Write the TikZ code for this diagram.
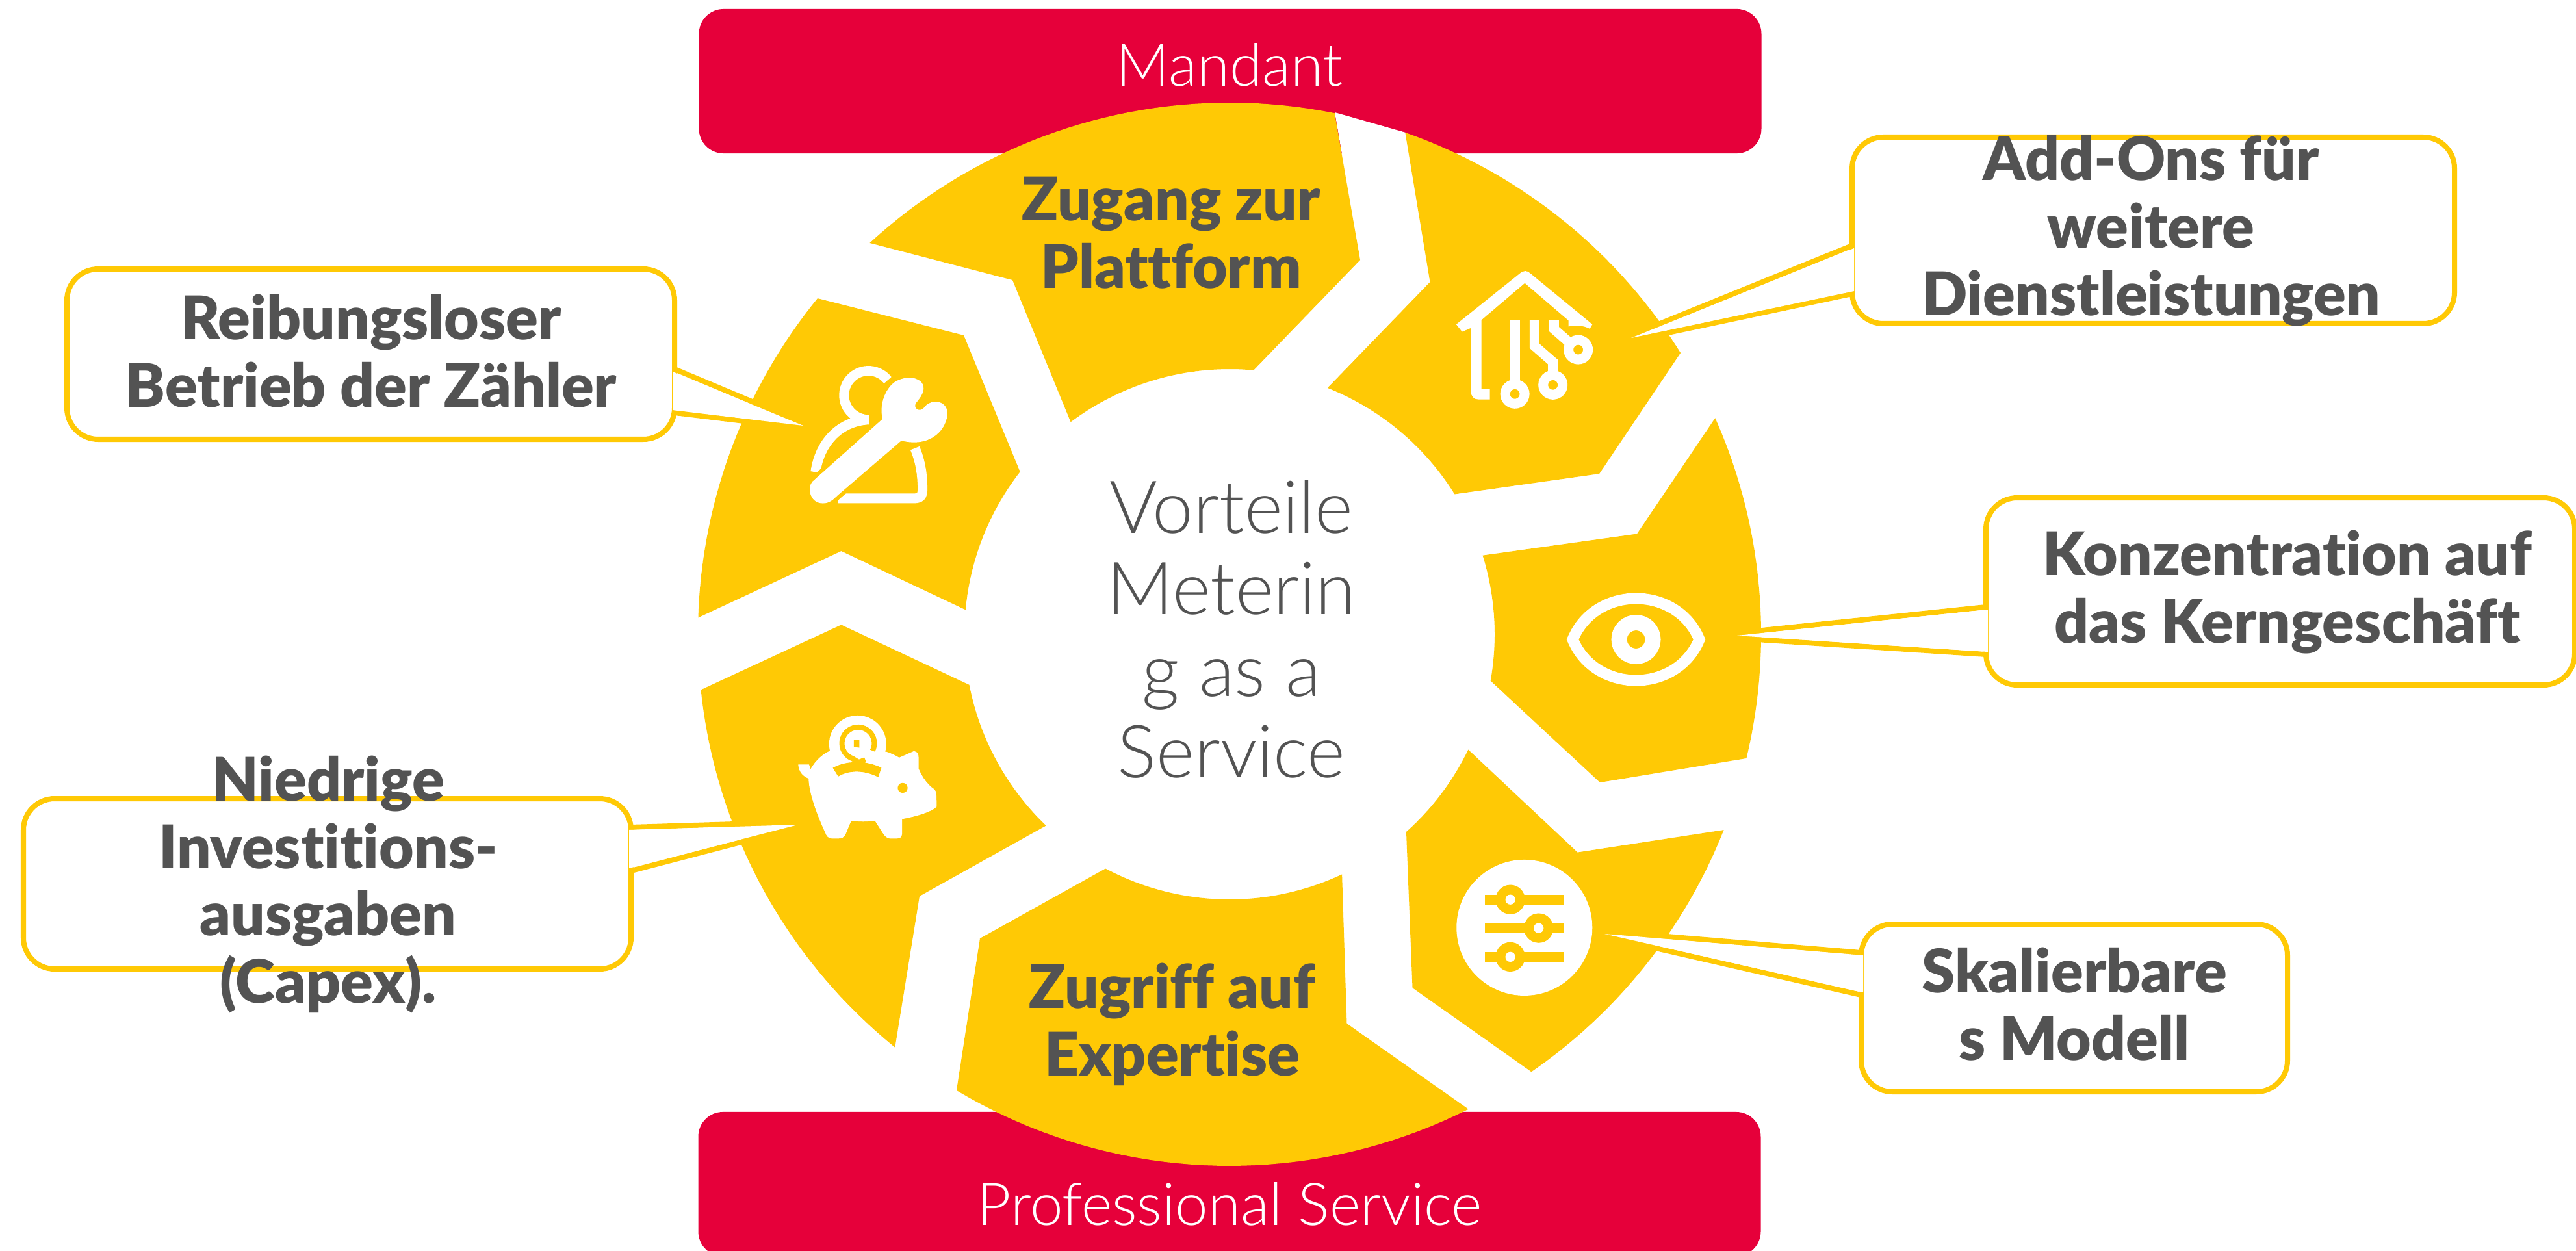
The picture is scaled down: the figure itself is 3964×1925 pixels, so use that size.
\documentclass[tikz,border=0pt]{standalone}
\usepackage{fontspec}
\setmainfont{Lato}
\newfontfamily\lightf[RawFeature={-liga}]{Lato Light}
\newfontfamily\heavyf[RawFeature={-liga}]{Lato Black}
\definecolor{yw}{HTML}{FFC905}
\definecolor{rd}{HTML}{E6003A}
\definecolor{gy}{HTML}{535353}
\tikzset{
  seg/.style={fill=yw},
  arcplot/.style={samples=40},
  redbox/.style={fill=rd,draw=none,rounded corners=0.38cm,minimum width=16.34cm,minimum height=2.22cm,inner sep=0pt},
  cbox/.style={draw=yw,fill=white,line width=0.08cm,rounded corners=0.48cm,inner sep=0pt},
  tailfill/.style={fill=white,draw=none},
  tailline/.style={draw=yw,line width=0.08cm,line cap=round},
  boldtxt/.style={text=gy,align=center,inner sep=0pt,font=\heavyf\fontsize{26.3}{29.5}\selectfont},
  lighttxt/.style={text=gy,align=center,inner sep=0pt,font=\lightf\fontsize{32}{35.6}\selectfont},
  redtxt/.style={text=white,inner sep=0pt,font=\lightf\fontsize{25.8}{36}\selectfont},
  icon/.style={x=0.003333cm,y=-0.003333cm},
  iconline/.style={draw=white,line width=0.15cm},
}
\newcommand{\cboxat}[5]{\node[cbox,minimum width={(#4-#2)*0.01cm},minimum height={(#5-#3)*0.01cm}] (#1) at ({(#2+#4)/2},{(#3+#5)/2}) {};}
% tail: outer edges are stroked yellow, the white wedge sits on top and ends at the tip
\newcommand{\tailat}[2]{%
  \draw[tailline] ([yshift=0.04cm]#1a) -- ([yshift=0.04cm]#1t);
  \draw[tailline] ([yshift=-0.04cm]#1b) -- ([yshift=-0.04cm]#1t);
  \fill[tailfill] ([xshift=#2]#1a) -- (#1t) -- ([xshift=#2]#1b) -- cycle;}
\begin{document}
\begin{tikzpicture}[x=0.01cm,y=-0.01cm,
  declare function={ox(\a)=1892+818*cos(\a);oy(\a)=976+818*sin(\a);ix(\a)=1892+408*cos(\a);iy(\a)=976+408*sin(\a);}]
\useasboundingbox (0,0) rectangle (3964,1925);
\clip (0,0) rectangle (3964,1925);

% red bars
\node[redbox] (top) at (1893,125) {};
\node[redbox] (bot) at (1892,1822) {};
\fill[white] (2054,173) -- (2163,204) -- (2200,434) -- (2093,400) -- cycle;

% segments
\fill[seg] plot[arcplot,domain=-132.6:-78.6] ({ox(\x)},{oy(\x)}) -- (2093,400) -- plot[arcplot,domain=-84.8:-126.8] ({ix(\x)},{iy(\x)}) -- (1558,431) -- cycle;
\fill[seg] plot[arcplot,domain=-70.7:-31.96] ({ox(\x)},{oy(\x)}) -- (2461,729) -- plot[arcplot,domain=-31.9:-68.3] ({ix(\x)},{iy(\x)}) -- (2200.5,434) -- cycle;
\fill[seg] plot[arcplot,domain=-24:13.5] ({ox(\x)},{oy(\x)}) -- (2462,1204) -- plot[arcplot,domain=10.1:-17.3] ({ix(\x)},{iy(\x)}) -- (2519,821.5) -- cycle;
\fill[seg] plot[arcplot,domain=21.6:55.4] ({ox(\x)},{oy(\x)}) -- (2173.5,1520) -- plot[arcplot,domain=48.2:25.8] ({ix(\x)},{iy(\x)}) -- (2427.5,1311.6) -- cycle;
\fill[seg] plot[arcplot,domain=63.3:120.9] ({ox(\x)},{oy(\x)}) -- (1508,1444) -- plot[arcplot,domain=117.9:64.9] ({ix(\x)},{iy(\x)}) -- (2072.5,1575) -- cycle;
\fill[seg] (1294.5,961.4) -- plot[arcplot,domain=174:129] ({ox(\x)},{oy(\x)}) -- (1415,1379) -- plot[arcplot,domain=133.8:169] ({ix(\x)},{iy(\x)}) -- cycle;
\fill[seg] (1260,459.6) -- (1483,516) -- plot[arcplot,domain=217.8:185.3] ({ix(\x)},{iy(\x)}) -- (1294.5,848) -- plot[arcplot,domain=181.8:219.2] ({ox(\x)},{oy(\x)}) -- cycle;

% callouts
\cboxat{b1}{2850}{211}{3777}{498}
\coordinate (t1a) at (2850,382); \coordinate (t1t) at (2510,520); \coordinate (t1b) at (2850,448);
\tailat{t1}{0.03cm}

\cboxat{b2}{3056}{766}{3962}{1054}
\coordinate (t2a) at (3056,938); \coordinate (t2t) at (2673,978); \coordinate (t2b) at (3056,1003);
\tailat{t2}{0.03cm}

\cboxat{b3}{2864}{1422}{3520}{1680}
\coordinate (t3a) at (2864,1470); \coordinate (t3t) at (2469,1437); \coordinate (t3b) at (2864,1527);
\tailat{t3}{0.03cm}

\cboxat{b4}{36}{1229}{971}{1491}
\coordinate (t4a) at (971,1277); \coordinate (t4t) at (1228,1269); \coordinate (t4b) at (971,1336);
\tailat{t4}{-0.03cm}

\cboxat{b5}{103}{414}{1038}{676}
\coordinate (t5a) at (1038,572); \coordinate (t5t) at (1236,655); \coordinate (t5b) at (1038,631);
\tailat{t5}{-0.03cm}

% wrench icon
\begin{scope}[shift={(1150,500)},icon]
  \draw[iconline] plot[samples=40,domain=-38:-270] ({560+113*cos(\x)},{325+113*sin(\x)}) .. controls (430,445) and (335,540) .. (315,680);
  \draw[iconline] (775,570) .. controls (800,630) and (810,690) .. (810,760) .. controls (810,790) and (800,802) .. (770,802) -- (420,802);
  \path[fill=white,preaction={draw=yw,line width=0.12cm}] (625,435) -- (300,725) .. controls (275,755) and (290,825) .. (350,825) .. controls (380,825) and (400,805) .. (415,790) -- (712,535) .. controls (850,570) and (925,480) .. (925,405) .. controls (920,345) and (845,340) .. (815,385) .. controls (795,405) and (765,385) .. (780,360) .. controls (815,320) and (825,290) .. (805,265) .. controls (770,230) and (710,245) .. (680,265) .. controls (635,300) and (610,370) .. (625,435) -- cycle;
\end{scope}

% home icon
\begin{scope}[shift={(2180,380)},icon]
  \fill[white] (183,358) -- (478,122) .. controls (495,108) and (510,108) .. (525,122) -- (812,358) -- (800,378) .. controls (770,362) and (730,360) .. (702,368) -- (702,340) -- (500,167) -- (299,338) -- (299,657) -- (338,657) -- (338,705) -- (285,705) .. controls (265,705) and (250,690) .. (250,665) -- (250,375) -- (210,392) -- cycle;
  \draw[iconline] (454,338) -- (454,620);
  \draw[iconline] (454,680) circle[radius=45];
  \draw[iconline] (545,338) -- (545,458) -- (630,532) -- (630,585);
  \draw[iconline] (630,638) circle[radius=45];
  \draw[iconline] (635,338) -- (635,380) -- (715,450);
  \draw[iconline] (747,475) circle[radius=45];
\end{scope}

% eye icon
\draw[white,line width=0.17cm,line join=miter] (2420,984) .. controls (2455,900) and (2580,900) .. (2615,984) .. controls (2580,1068) and (2455,1068) .. (2420,984) -- cycle;
\draw[white,line width=0.24cm] (2517.5,984) circle[radius=26];

% sliders icon
\begin{scope}[shift={(2200,1290)},icon]
  \fill[white] (438,413) circle[radius=314];
  \fill[yw] (256,261) rectangle (622,305);
  \fill[yw] (256,393) rectangle (622,437);
  \fill[yw] (256,526) rectangle (622,570);
  \fill[yw] (373,283) circle[radius=68];
  \fill[yw] (504,415) circle[radius=68];
  \fill[yw] (373,548) circle[radius=68];
  \fill[white] (373,283) circle[radius=23];
  \fill[white] (504,415) circle[radius=23];
  \fill[white] (373,548) circle[radius=23];
\end{scope}

% piggy icon
\begin{scope}[shift={(1190,1060)},icon]
  \fill[white] (390,255) circle[radius=132];
  \fill[white] (115,350) -- (165,350) -- (172,372) .. controls (195,330) and (230,300) .. (265,285) -- (520,290) .. controls (545,298) and (565,308) .. (582,318) -- (650,288) .. controls (665,290) and (672,300) .. (672,320) -- (672,370) .. controls (690,410) and (710,440) .. (745,465) .. controls (755,475) and (755,490) .. (755,545) .. controls (730,570) and (660,590) .. (595,602) -- (595,670) .. controls (595,685) and (585,692) .. (570,692) -- (540,692) .. controls (525,692) and (515,680) .. (505,665) -- (470,610) .. controls (430,615) and (400,615) .. (360,610) -- (335,670) .. controls (325,690) and (315,692) .. (300,692) -- (270,692) .. controls (255,692) and (245,680) .. (240,665) .. controls (210,600) and (165,490) .. (163,415) .. controls (130,400) and (118,380) .. (115,350) -- cycle;
  \draw[yw,line width=0.08cm] plot[samples=30,domain=27:-250] ({392+75*cos(\x)},{252+75*sin(\x)}) -- (395,340) -- (425,328);
  \fill[yw] (372,235) -- (398,235) -- (398,272) -- (372,268) -- cycle;
  \fill[yw] (275,365) .. controls (340,330) and (430,330) .. (500,365) -- (485,408) .. controls (420,375) and (350,375) .. (300,405) -- cycle;
  \fill[yw] (598,458) circle[radius=23];
\end{scope}

% texts
\node[redtxt] (tmandant) at (1892,100) {Mandant};
\node[redtxt] (tprof) at (1892,1853) {Professional Service};
\node[lighttxt] (tcenter) at (1895,968) {Vorteile\\Meterin\\g as a\\Service};
\node[boldtxt] (tzugang) at (1802,358) {Zugang zur\\Plattform};
\node[boldtxt] (tzugriff) at (1804,1576) {Zugriff auf\\Expertise};
\node[boldtxt] (taddons) at (3310,355) {Add-Ons für\\weitere\\Dienstleistungen};
\node[boldtxt] (tkonz) at (3520,911) {Konzentration auf\\das Kerngeschäft};
\node[boldtxt] (tskal) at (3192,1545) {Skalierbare\\s Modell};
\node[boldtxt] (tnied) at (505,1361) {Niedrige\\Investitions-\\ausgaben\\(Capex).};
\node[boldtxt] (treib) at (571,540) {Reibungsloser\\Betrieb der Zähler};
\end{tikzpicture}
\end{document}
